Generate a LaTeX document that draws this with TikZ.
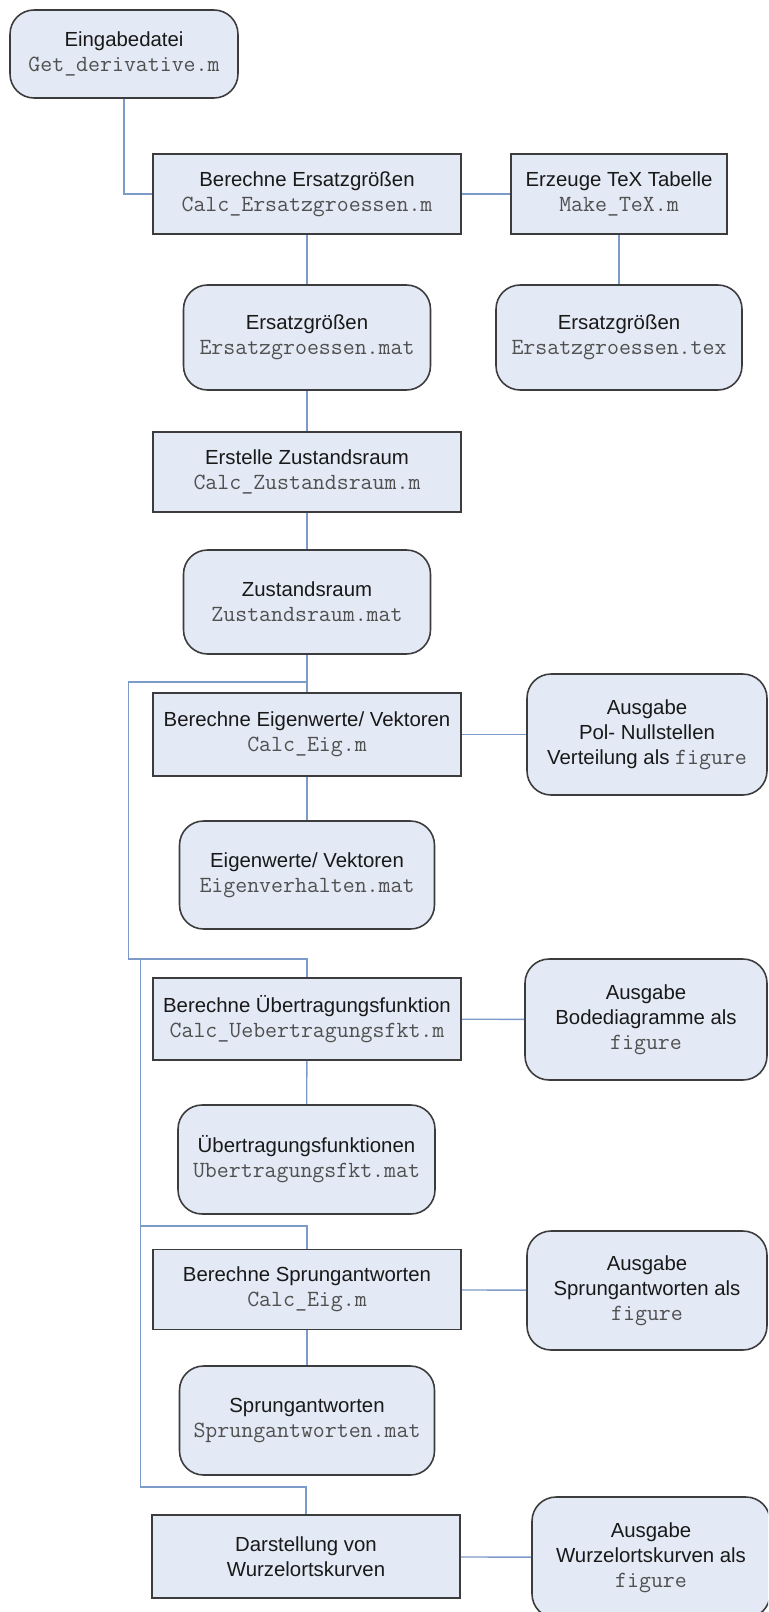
\documentclass[tikz,border=0pt]{standalone}
\usepackage{fontspec}
\setmainfont{Liberation Sans}
\usetikzlibrary{positioning}
\definecolor{boxfill}{RGB}{227,233,245}
\definecolor{frame}{RGB}{60,60,60}
\definecolor{wire}{RGB}{125,155,200}
\definecolor{codegray}{RGB}{80,80,80}
\newcommand{\mfile}[1]{{\fontsize{13.2}{14.2}\selectfont\ttfamily\color{codegray}#1}}
\tikzset{
  proc/.style={draw=frame,fill=boxfill,line width=0.9pt,align=center,inner sep=0pt,
    font=\fontsize{11.6}{14.2}\selectfont,text=black!90,
    minimum width=6.16cm,minimum height=1.6cm},
  data/.style={proc,rounded corners=0.48cm,minimum width=4.94cm,minimum height=2.1cm},
  outbox/.style={data,minimum width=4.8cm,minimum height=2.42cm},
  link/.style={draw=wire,line width=0.8pt},
}

\begin{document}
\begin{tikzpicture}[x=0.02cm,y=-0.02cm]
  \useasboundingbox (0,0) rectangle (768,1612);
  \clip (0,0) rectangle (768,1612);
  % main column
  \node[data,minimum width=4.56cm,minimum height=1.76cm] (inp) at (124,54) {Eingabedatei\\\mfile{Get\_derivative.m}};
  \node[proc] (ers) at (307,194) {Berechne Ersatzgrößen\\\mfile{Calc\_Ersatzgroessen.m}};
  \node[proc,minimum width=4.32cm] (tex) at (619,194) {Erzeuge TeX Tabelle\\\mfile{Make\_TeX.m}};
  \node[data] (ersmat) at (307,337.5) {Ersatzgrößen\\\mfile{Ersatzgroessen.mat}};
  \node[data,minimum width=4.92cm] (erstex) at (619,337.5) {Ersatzgrößen\\\mfile{Ersatzgroessen.tex}};
  \node[proc] (zsr) at (307,472) {Erstelle Zustandsraum\\\mfile{Calc\_Zustandsraum.m}};
  \node[data,minimum height=2.08cm] (zsrmat) at (307,602) {Zustandsraum\\\mfile{Zustandsraum.mat}};
  \node[proc,minimum height=1.66cm] (eig) at (307,734.5) {Berechne Eigenwerte/ Vektoren\\\mfile{Calc\_Eig.m}};
  \node[outbox] (pol) at (647,734.5) {Ausgabe\\Pol- Nullstellen\\Verteilung als \mfile{figure}};
  \node[data,minimum width=5.1cm,minimum height=2.16cm] (eigmat) at (307,875) {Eigenwerte/ Vektoren\\\mfile{Eigenverhalten.mat}};
  \node[proc,minimum height=1.64cm] (uet) at (307,1019) {Berechne Übertragungsfunktion\\\mfile{Calc\_Uebertragungsfkt.m}};
  \node[outbox,minimum width=4.84cm] (bode) at (646,1019.5) {Ausgabe\\Bodediagramme als\\\mfile{figure}};
  \node[data,minimum width=5.14cm,minimum height=2.18cm] (uetmat) at (306.5,1159.5) {Übertragungsfunktionen\\\mfile{Ubertragungsfkt.mat}};
  \node[proc] (spr) at (307,1289.5) {Berechne Sprungantworten\\\mfile{Calc\_Eig.m}};
  \node[outbox,minimum height=2.38cm] (sprout) at (647,1290.5) {Ausgabe\\Sprungantworten als\\\mfile{figure}};
  \node[data,minimum width=5.1cm,minimum height=2.18cm] (sprmat) at (307,1420.5) {Sprungantworten\\\mfile{Sprungantworten.mat}};
  \node[proc,minimum height=1.66cm] (wok) at (306,1556.5) {Darstellung von\\Wurzelortskurven};
  \node[outbox,minimum width=4.76cm] (wokout) at (651,1557.5) {Ausgabe\\Wurzelortskurven als\\\mfile{figure}};

  \coordinate (s1) at (307,682);
  \coordinate (c1) at (128.5,959);
  \coordinate (c2) at (140.5,959);
  \coordinate (c3) at (140.5,1226);
  \coordinate (c4) at (140.5,1487);

  \draw[link] (inp.south) |- (ers.west);
  \draw[link] (ers) -- (tex);
  \draw[link] (tex) -- (erstex);
  \draw[link] (ers) -- (ersmat);
  \draw[link] (ersmat) -- (zsr);
  \draw[link] (zsr) -- (zsrmat);
  \draw[link] (zsrmat) -- (eig);
  \draw[link] (eig) -- (pol);
  \draw[link] (eig) -- (eigmat);
  \draw[link] (uet) -- (bode);
  \draw[link] (uet) -- (uetmat);
  \draw[link] (spr) -- (sprout);
  \draw[link] (spr) -- (sprmat);
  \draw[link] (wok) -- (wokout);
  % feedback lines on the left
  \draw[link] (s1) -| (c1) -| (uet.north);
  \draw[link] (c2) -- (c3) -| (spr.north);
  \draw[link] (c3) -- (c4) -| (wok.north);
\end{tikzpicture}
\end{document}
